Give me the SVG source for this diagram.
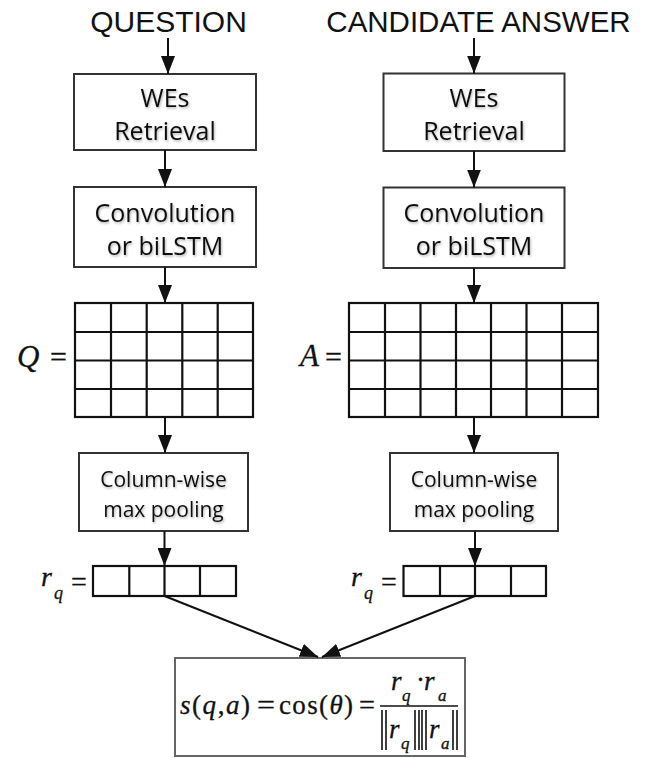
<svg xmlns="http://www.w3.org/2000/svg" width="650" height="758" viewBox="0 0 650 758">
<style>
.box{fill:#fff;stroke:#333;stroke-width:2}
.grid{fill:none;stroke:#111;stroke-width:2.2}
.conn{fill:none;stroke:#111;stroke-width:2;marker-end:url(#ah)}
.hdr{font-family:"Liberation Sans",Arial,sans-serif;font-size:30px;fill:#111;text-anchor:middle}
.lbl{font-family:"Open Sans","Noto Sans",sans-serif;font-size:25px;fill:#111;text-anchor:middle;filter:url(#sh)}
.sm{font-size:21px}
.m{font-family:"Liberation Serif","Times New Roman",serif;fill:#111;stroke:#111;stroke-width:0.3}
.i{font-style:italic}
.bar{stroke:#111;stroke-width:1.6}
</style>
<defs>
<marker id="ah" viewBox="0 0 18 14" refX="18" refY="7" markerWidth="18" markerHeight="14" markerUnits="userSpaceOnUse" orient="auto">
<path d="M0,0 L18,7 L0,14 z" fill="#111"/>
</marker>
<filter id="sh" x="-10%" y="-20%" width="130%" height="160%">
<feDropShadow dx="1" dy="1.5" stdDeviation="1" flood-color="#000" flood-opacity="0.3"/>
</filter>
</defs>

<g id="header-question"><text class="hdr" x="168.5" y="32">QUESTION</text></g>
<g id="header-answer"><text class="hdr" x="478.5" y="32" style="font-size:29.5px">CANDIDATE ANSWER</text></g>

<g id="q-we">
<rect class="box" x="74" y="74" width="182" height="76"/>
<text class="lbl" x="165" y="107">WEs</text>
<text class="lbl" x="165" y="140">Retrieval</text>
</g>
<g id="q-conv">
<rect class="box" x="74" y="187" width="182" height="80"/>
<text class="lbl" x="165" y="222">Convolution</text>
<text class="lbl" x="165" y="255">or biLSTM</text>
</g>
<g id="q-matrix">
<rect class="grid" x="75" y="303" width="178" height="114"/>
<path class="grid" d="M111,303V417M146.7,303V417M182.3,303V417M217.7,303V417M75,332H253M75,360.5H253M75,389H253"/>
<text class="m i" x="17" y="367" font-size="31">Q</text>
<text class="m" x="50" y="366.5" font-size="30">=</text>
</g>
<g id="q-pool">
<rect class="box" x="79" y="453" width="169" height="78"/>
<text class="lbl sm" x="163.5" y="487">Column-wise</text>
<text class="lbl sm" x="163.5" y="517">max pooling</text>
</g>
<g id="q-vector">
<rect class="grid" x="93" y="566" width="143" height="30"/>
<path class="grid" d="M129.3,566V596M164.5,566V596M200,566V596"/>
<text class="m i" x="41" y="586" font-size="28">r</text>
<text class="m i" x="54" y="599" font-size="18">q</text>
<text class="m" x="71" y="591" font-size="28">=</text>
</g>

<g id="a-we">
<rect class="box" x="383.5" y="73.5" width="181" height="77.5"/>
<text class="lbl" x="474" y="107">WEs</text>
<text class="lbl" x="474" y="140">Retrieval</text>
</g>
<g id="a-conv">
<rect class="box" x="383.5" y="187.5" width="181" height="80.5"/>
<text class="lbl" x="474" y="222">Convolution</text>
<text class="lbl" x="474" y="255">or biLSTM</text>
</g>
<g id="a-matrix">
<rect class="grid" x="349" y="303" width="249" height="114"/>
<path class="grid" d="M385,303V417M420.5,303V417M456,303V417M491,303V417M526.5,303V417M562,303V417M349,332H598M349,360.5H598M349,389H598"/>
<text class="m i" x="300" y="366" font-size="31">A</text>
<text class="m" x="325" y="366.5" font-size="30">=</text>
</g>
<g id="a-pool">
<rect class="box" x="390" y="453" width="168" height="78"/>
<text class="lbl sm" x="474" y="487">Column-wise</text>
<text class="lbl sm" x="474" y="517">max pooling</text>
</g>
<g id="a-vector">
<rect class="grid" x="403.5" y="566" width="142.5" height="30"/>
<path class="grid" d="M440,566V596M475,566V596M511,566V596"/>
<text class="m i" x="351" y="586" font-size="28">r</text>
<text class="m i" x="364" y="599" font-size="18">q</text>
<text class="m" x="381" y="591" font-size="28">=</text>
</g>

<g id="similarity">
<rect x="175" y="658" width="290" height="98" fill="#fff" stroke="#666" stroke-width="2"/>
<text class="m" x="180" y="714" font-size="27" textLength="70" lengthAdjust="spacing"><tspan class="i">s</tspan>(<tspan class="i">q</tspan>,<tspan class="i">a</tspan>)</text>
<text class="m" x="257" y="714" font-size="27" textLength="18" lengthAdjust="spacingAndGlyphs">=</text>
<text class="m" x="279" y="714" font-size="27" textLength="74" lengthAdjust="spacing">cos(<tspan class="i">θ</tspan>)</text>
<text class="m" x="359" y="714" font-size="27" textLength="16" lengthAdjust="spacingAndGlyphs">=</text>
<line class="bar" x1="380" y1="706" x2="458" y2="706"/>
<text class="m i" x="391" y="690" font-size="27">r</text>
<text class="m i" x="402" y="701" font-size="17">q</text>
<text class="m" x="416" y="689" font-size="27">·</text>
<text class="m i" x="424" y="690" font-size="27">r</text>
<text class="m i" x="438" y="701" font-size="17">a</text>
<path class="bar" d="M382,710V750M386,710V750M415,710V750M419,710V750M422,710V750M426,710V750M453,710V750M457,710V750"/>
<text class="m i" x="389" y="738" font-size="27">r</text>
<text class="m i" x="401" y="749" font-size="17">q</text>
<text class="m i" x="429" y="738" font-size="27">r</text>
<text class="m i" x="441" y="749" font-size="17">a</text>
</g>

<g id="connectors">
<line class="conn" x1="168" y1="38" x2="168" y2="74"/>
<line class="conn" x1="165" y1="150" x2="165" y2="187"/>
<line class="conn" x1="165" y1="267" x2="165" y2="303"/>
<line class="conn" x1="165" y1="417" x2="165" y2="453"/>
<line class="conn" x1="164.5" y1="531" x2="164.5" y2="566"/>
<line class="conn" x1="474" y1="38" x2="474" y2="73.5"/>
<line class="conn" x1="474" y1="151" x2="474" y2="187.5"/>
<line class="conn" x1="474" y1="268" x2="474" y2="303"/>
<line class="conn" x1="474" y1="417" x2="474" y2="453"/>
<line class="conn" x1="475" y1="531" x2="475" y2="566"/>
<line class="conn" x1="164.5" y1="596" x2="318" y2="657"/>
<line class="conn" x1="475" y1="596" x2="322" y2="657"/>
</g>
</svg>
